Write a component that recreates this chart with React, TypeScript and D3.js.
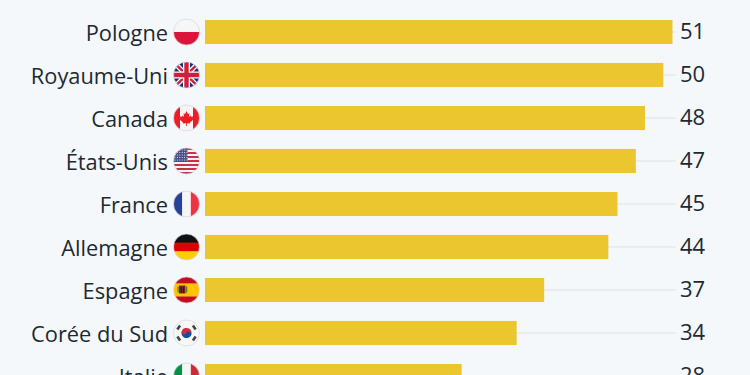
import React from "react";
import * as d3 from "d3";

const countries = ["Pologne", "Royaume-Uni", "Canada", "États-Unis", "France", "Allemagne", "Espagne", "Corée du Sud", "Italie"];
const values = [51, 50, 48, 47, 45, 44, 37, 34, 28];
const flagKeys = ["pl", "gb", "ca", "us", "fr", "de", "es", "kr", "it"];

const W = 750, H = 375;
const x = d3.scaleLinear().domain([0, 51]).range([205, 672.5]);
const y = d3.scaleBand<string>().domain(countries).range([10.5, 397.5]).paddingInner(0.44).paddingOuter(0.22);
const R = 13;

function stripesV(colors: string[]) {
  const s = d3.scaleBand<number>().domain(colors.map((_, i) => i)).range([-R, R]);
  return colors.map((c, i) => <rect key={i} x={s(i)} y={-R} width={s.bandwidth() + 0.3} height={2 * R} fill={c} />);
}
function stripesH(colors: string[], weights?: number[]) {
  const w = weights ?? colors.map(() => 1);
  const total = d3.sum(w);
  let acc = -R;
  return colors.map((c, i) => {
    const h = (w[i] / total) * 2 * R;
    const el = <rect key={i} x={-R} y={acc} width={2 * R} height={h + 0.3} fill={c} />;
    acc += h;
    return el;
  });
}

function Flag({ k }: { k: string }) {
  switch (k) {
    case "pl":
      return <>{stripesH(["#f6f6f6", "#dc143c"])}</>;
    case "gb":
      return (
        <>
          <rect x={-R} y={-R} width={2 * R} height={2 * R} fill="#1a2f73" />
          <path d="M-13,-13L13,13M13,-13L-13,13" stroke="#fff" strokeWidth={5} />
          <path d="M-13,-13L13,13M13,-13L-13,13" stroke="#d01f3c" strokeWidth={2.4} />
          <path d="M0,-13V13M-13,0H13" stroke="#fff" strokeWidth={7} />
          <path d="M0,-13V13M-13,0H13" stroke="#d01f3c" strokeWidth={4.4} />
        </>
      );
    case "ca":
      return (
        <>
          <rect x={-R} y={-R} width={2 * R} height={2 * R} fill="#f5f5f5" />
          <rect x={-R} y={-R} width={6.5} height={2 * R} fill="#ee1c25" />
          <rect x={6.5} y={-R} width={6.5} height={2 * R} fill="#ee1c25" />
          <path d="M0,-7L1.5,-4L3,-4.8L2.4,-1L4,-2.6L4.6,-1.2L7,-1.6L6.2,1L7,1.6L3.4,4.4L3.8,5.6L0.4,5.2V8H-0.4V5.2L-3.8,5.6L-3.4,4.4L-7,1.6L-6.2,1L-7,-1.6L-4.6,-1.2L-4,-2.6L-2.4,-1L-3,-4.8L-1.5,-4Z" fill="#ee1c25" />
        </>
      );
    case "us":
      return (
        <>
          {stripesH(["#c8314a", "#f5f5f5", "#c8314a", "#f5f5f5", "#c8314a", "#f5f5f5", "#c8314a", "#f5f5f5", "#c8314a", "#f5f5f5", "#c8314a", "#f5f5f5", "#c8314a"])}
          <rect x={-R} y={-R} width={14} height={14} fill="#4a4f8c" />
          {d3.range(5).flatMap((r) =>
            d3.range(6).map((c) => (
              <circle key={`${r}-${c}`} cx={-11.5 + c * 2.4} cy={-11 + r * 2.5} r={0.6} fill="#e8e8f2" />
            ))
          )}
        </>
      );
    case "fr":
      return <>{stripesV(["#27409a", "#f5f5f5", "#ef3340"])}</>;
    case "de":
      return <>{stripesH(["#111111", "#dd0000", "#ffce00"])}</>;
    case "es":
      return (
        <>
          {stripesH(["#c60b1e", "#ffc400", "#c60b1e"], [1, 2, 1])}
          <rect x={-7.5} y={-4.5} width={6.5} height={8} fill="#7a2a1a" />
          <rect x={-6} y={-3} width={1.2} height={6} fill="#222" />
          <rect x={-3.5} y={-3} width={1.2} height={6} fill="#222" />
          <rect x={-0.5} y={-3.5} width={1.2} height={6} fill="#6b6b3a" />
          <rect x={-9} y={-3.5} width={1.2} height={6} fill="#6b6b3a" />
        </>
      );
    case "kr":
      return (
        <>
          <rect x={-R} y={-R} width={2 * R} height={2 * R} fill="#f7f7f7" />
          <g transform="rotate(30) scale(0.82)">
            <path d="M-6.2,0A6.2,6.2,0,0,1,6.2,0Z" fill="#cd2e3a" />
            <path d="M-6.2,0A6.2,6.2,0,0,0,6.2,0Z" fill="#0f4fa8" />
            <circle cx={-3.1} cy={0} r={3.1} fill="#cd2e3a" />
            <circle cx={3.1} cy={0} r={3.1} fill="#0f4fa8" />
          </g>
          {[55, 125, 235, 305].map((a) => (
            <g key={a} transform={`rotate(${a}) translate(0,-9.5)`}>
              <rect x={-2.4} y={-1.3} width={4.8} height={2.6} fill="#444" />
            </g>
          ))}
        </>
      );
    case "it":
      return <>{stripesV(["#009246", "#f5f5f5", "#ce2b37"])}</>;
  }
  return null;
}

export default function App() {
  return (
    <svg
      width={W}
      height={H}
      viewBox={`0 0 ${W} ${H}`}
      style={{ position: "fixed", left: 0, top: 0, display: "block", background: "#f4f8fb" }}
      fontFamily="'Open Sans', sans-serif"
    >
      <defs>
        <clipPath id="flag-clip">
          <circle r={R} />
        </clipPath>
      </defs>
      {countries.map((c, i) => {
        const top = y(c)!;
        const bw = y.bandwidth();
        const cy = top + bw / 2;
        return (
          <g key={c}>
            <line x1={x(0)} x2={676} y1={cy} y2={cy} stroke="#e6e9ed" strokeWidth={1.5} />
            <rect x={x(0)} y={top} width={x(values[i]) - x(0)} height={bw} fill="#ebc62f" />
            <text x={168} y={cy + 1} dy="0.35em" textAnchor="end" fontSize={21.8} fill="#1e2a32">{c}</text>
            <g transform={`translate(186.5,${cy})`}>
              <g clipPath="url(#flag-clip)">
                <Flag k={flagKeys[i]} />
              </g>
              <circle r={R} fill="none" stroke="#d4d6da" strokeWidth={0.7} />
            </g>
            <text x={680} y={cy - 1} dy="0.35em" fontSize={22} fill="#1e2a32">{values[i]}</text>
          </g>
        );
      })}
    </svg>
  );
}
